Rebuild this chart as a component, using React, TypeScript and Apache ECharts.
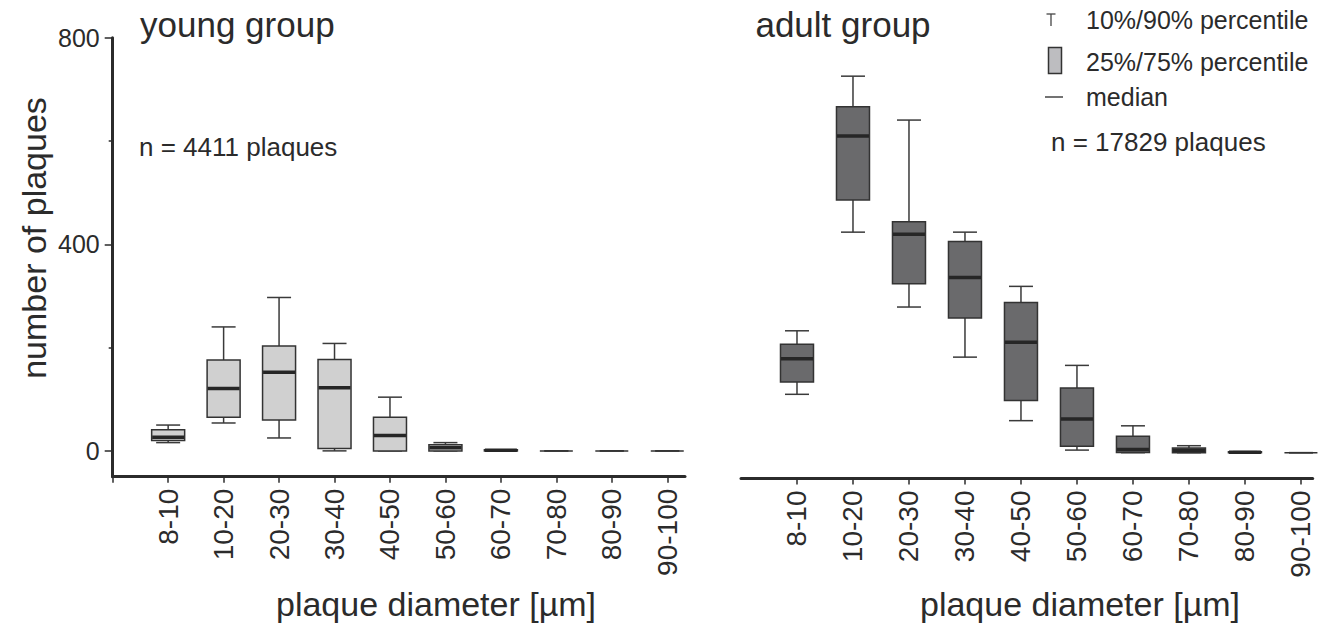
import React, { useEffect, useRef } from "react";
import * as echarts from "echarts";

const categories = ["8-10", "10-20", "20-30", "30-40", "40-50", "50-60", "60-70", "70-80", "80-90", "90-100"];

// young group (10% / 25% / median / 75% / 90%)
const youngP10 = [16, 54, 25, 0, 0, 0, 0, 0, 0, 0];
const youngQ1 = [20, 65, 60, 4.5, 0, 0, 0, 0, 0, 0];
const youngMedian = [26.5, 121, 152, 122, 30, 6, 1, 0, 0, 0];
const youngQ3 = [41, 176, 203, 177, 65, 12, 2, 0, 0, 0];
const youngP90 = [50, 240, 297, 208, 104, 16, 2, 0, 0, 0];

// adult group
const adultP10 = [113, 427, 282, 185, 62, 5, 0, 0, 0, 0];
const adultQ1 = [137, 489, 327, 261, 101, 12.6, 0.5, 0, 0, 0];
const adultMedian = [182, 613, 423, 339, 214, 65, 6, 4, 1, 0];
const adultQ3 = [210, 670, 447, 409, 291, 125, 32, 9, 2, 0];
const adultP90 = [236, 729, 644, 427, 322, 169, 52, 13.5, 2, 0];

const yMajorTicks = [0, 400, 800];
const yMinorTicks = [200, 600];

const FONT = "'Liberation Sans', Arial, sans-serif";
const INK = "#2b2b2b";

function buildData(p10: number[], q1: number[], med: number[], q3: number[], p90: number[]) {
  return categories.map((_, i) => [i, p10[i], q1[i], med[i], q3[i], p90[i]]);
}

function makeRender(fill: string) {
  return (params: any, api: any) => {
    const x = api.value(0);
    const p10 = api.value(1);
    const q1 = api.value(2);
    const med = api.value(3);
    const q3 = api.value(4);
    const p90 = api.value(5);
    const cx = api.coord([x, 0])[0];
    const yP10 = api.coord([x, p10])[1];
    const yQ1 = api.coord([x, q1])[1];
    const yMed = api.coord([x, med])[1];
    const yQ3 = api.coord([x, q3])[1];
    const yP90 = api.coord([x, p90])[1];
    const bw = 33;
    const cw = 24;
    const ls = { stroke: "#3a3a3a", lineWidth: 1.5 };
    const children: any[] = [
      { type: "line", shape: { x1: cx, y1: yP90, x2: cx, y2: yQ3 }, style: ls },
      { type: "line", shape: { x1: cx - cw / 2, y1: yP90, x2: cx + cw / 2, y2: yP90 }, style: ls },
      { type: "line", shape: { x1: cx, y1: yQ1, x2: cx, y2: yP10 }, style: ls },
      { type: "line", shape: { x1: cx - cw / 2, y1: yP10, x2: cx + cw / 2, y2: yP10 }, style: ls },
      {
        type: "rect",
        shape: { x: cx - bw / 2, y: yQ3, width: bw, height: yQ1 - yQ3 },
        style: { fill, stroke: "#333333", lineWidth: 1.5 },
      },
    ];
    if (q3 - q1 > 1.5) {
      children.push({
        type: "line",
        shape: { x1: cx - bw / 2 + 0.5, y1: yMed, x2: cx + bw / 2 - 0.5, y2: yMed },
        style: { stroke: "#262626", lineWidth: 3.5 },
      });
    }
    return { type: "group", children };
  };
}

export default function App() {
  const ref = useRef<HTMLDivElement>(null);
  useEffect(() => {
    if (!ref.current) return;
    const chart = echarts.init(ref.current, undefined, { renderer: "svg" });
    const xTickVals = categories.map((_, i) => i);
    const baseX = {
      type: "value" as const,
      min: -1,
      interval: 1,
      splitLine: { show: false },
      axisLine: { show: true, onZero: false, lineStyle: { color: INK, width: 3 } },
      axisLabel: {
        customValues: xTickVals,
        formatter: (v: number) => categories[Math.round(v)] ?? "",
        rotate: 90,
        margin: 12,
        fontSize: 28,
        color: INK,
        fontFamily: FONT,
      },
    };
    const option: any = {
      animation: false,
      backgroundColor: "#ffffff",
      grid: [
        { left: 112.7, top: 37.7, width: 572.3, height: 439 },
        { left: 741, top: 39.5, width: 571.7, height: 439 },
      ],
      xAxis: [
        {
          ...baseX,
          gridIndex: 0,
          max: 9.32,
          axisTick: {
            show: true,
            customValues: [-1, ...xTickVals],
            length: 6,
            lineStyle: { color: INK, width: 1.5 },
          },
        },
        {
          ...baseX,
          gridIndex: 1,
          max: 9.21,
          axisTick: {
            show: true,
            customValues: xTickVals,
            length: 6,
            lineStyle: { color: INK, width: 1.5 },
          },
        },
      ],
      yAxis: [
        {
          type: "value",
          gridIndex: 0,
          position: "left",
          min: -50,
          max: 800,
          splitLine: { show: false },
          axisLine: { show: true, onZero: false, lineStyle: { color: INK, width: 3 } },
          axisTick: { show: true, customValues: yMajorTicks, length: 8, lineStyle: { color: INK, width: 1.5 } },
          axisLabel: { customValues: yMajorTicks, margin: 13, fontSize: 25, color: INK, fontFamily: FONT },
        },
        {
          type: "value",
          gridIndex: 0,
          position: "left",
          min: -50,
          max: 800,
          splitLine: { show: false },
          axisLine: { show: false, onZero: false },
          axisTick: { show: true, customValues: yMinorTicks, length: 4, lineStyle: { color: INK, width: 1.5 } },
          axisLabel: { show: false },
        },
        {
          type: "value",
          gridIndex: 1,
          min: -50,
          max: 800,
          show: false,
          splitLine: { show: false },
          axisLine: { onZero: false },
        },
      ],
      series: [
        {
          type: "custom",
          name: "young group",
          xAxisIndex: 0,
          yAxisIndex: 0,
          renderItem: makeRender("#d0d0d0"),
          encode: { x: 0, y: [1, 2, 3, 4, 5] },
          data: buildData(youngP10, youngQ1, youngMedian, youngQ3, youngP90),
        },
        {
          type: "custom",
          name: "adult group",
          xAxisIndex: 1,
          yAxisIndex: 2,
          renderItem: makeRender("#6a6a6c"),
          encode: { x: 0, y: [1, 2, 3, 4, 5] },
          data: buildData(adultP10, adultQ1, adultMedian, adultQ3, adultP90),
        },
      ],
      graphic: [
        { type: "text", x: 140, y: 24, style: { text: "young group", fontSize: 35, fontFamily: FONT, fill: INK, verticalAlign: "middle" } },
        { type: "text", x: 843, y: 24, style: { text: "adult group", fontSize: 35, fontFamily: FONT, fill: INK, align: "center", verticalAlign: "middle" } },
        { type: "text", x: 139, y: 147, style: { text: "n = 4411 plaques", fontSize: 26, fontFamily: FONT, fill: INK, verticalAlign: "middle" } },
        { type: "text", x: 1051, y: 142, style: { text: "n = 17829 plaques", fontSize: 26, fontFamily: FONT, fill: INK, verticalAlign: "middle" } },
        {
          type: "text",
          x: 34,
          y: 238,
          rotation: Math.PI / 2,
          style: { text: "number of plaques", fontSize: 34, fontFamily: FONT, fill: INK, align: "center", verticalAlign: "middle" },
        },
        { type: "text", x: 436, y: 604, style: { text: "plaque diameter [µm]", fontSize: 34, fontFamily: FONT, fill: INK, align: "center", verticalAlign: "middle" } },
        { type: "text", x: 1080, y: 604, style: { text: "plaque diameter [µm]", fontSize: 34, fontFamily: FONT, fill: INK, align: "center", verticalAlign: "middle" } },
        // legend
        { type: "line", shape: { x1: 1046.5, y1: 14, x2: 1055.5, y2: 14 }, style: { stroke: "#444", lineWidth: 1.3 } },
        { type: "line", shape: { x1: 1051, y1: 14, x2: 1051, y2: 26 }, style: { stroke: "#444", lineWidth: 1.3 } },
        { type: "rect", shape: { x: 1048.5, y: 47.5, width: 13, height: 26 }, style: { fill: "#bdbdc0", stroke: "#333", lineWidth: 1.5 } },
        { type: "line", shape: { x1: 1045, y1: 97, x2: 1063, y2: 97 }, style: { stroke: "#444", lineWidth: 1.5 } },
        { type: "text", x: 1086, y: 20, style: { text: "10%/90% percentile", fontSize: 25, fontFamily: FONT, fill: INK, verticalAlign: "middle" } },
        { type: "text", x: 1086, y: 62, style: { text: "25%/75% percentile", fontSize: 25, fontFamily: FONT, fill: INK, verticalAlign: "middle" } },
        { type: "text", x: 1086, y: 97, style: { text: "median", fontSize: 25, fontFamily: FONT, fill: INK, verticalAlign: "middle" } },
      ],
    };
    chart.setOption(option);
    return () => chart.dispose();
  }, []);
  return <div ref={ref} style={{ position: "fixed", left: 0, top: 0, width: 1329, height: 626 }} />;
}
